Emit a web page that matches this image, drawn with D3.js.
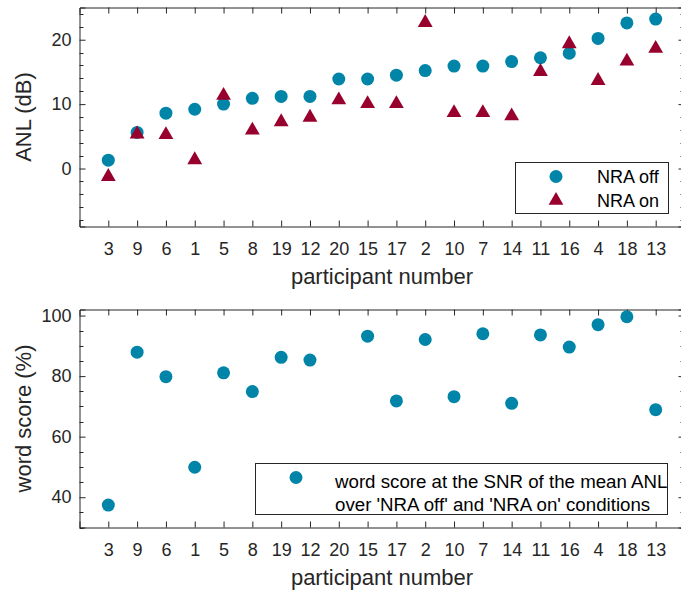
<!DOCTYPE html>
<html><head><meta charset="utf-8">
<script src="https://cdn.jsdelivr.net/npm/d3@7"></script>
<style>
html,body{margin:0;padding:0;background:#fff;}
svg{display:block;}
text{font-family:"Liberation Sans",Arial,Helvetica,sans-serif;fill:#262626;}
</style></head><body>
<script>
// ---- data ----
const participants = ["3","9","6","1","5","8","19","12","20","15","17","2","10","7","14","11","16","4","18","13"];
const anlOff = [1.3,5.6,8.6,9.2,10.0,10.9,11.2,11.2,13.9,13.9,14.5,15.2,15.9,15.9,16.6,17.2,17.9,20.2,22.6,23.2];
const anlOn  = [-1.1,5.5,5.4,1.5,11.5,6.1,7.4,8.1,10.8,10.2,10.2,22.8,8.8,8.8,8.3,15.2,19.5,13.8,16.8,18.8];
const wordScore = [37.4,87.9,79.8,49.9,81.1,74.9,86.2,85.3,null,93.2,71.8,92.1,73.2,94.0,71.0,93.6,89.6,97.0,99.6,68.9];
const anlTicks = [0,10,20];
const wordTicks = [40,60,80,100];
const seriesNames = ["NRA off","NRA on"];
const wordLegend = ["word score at the SNR of the mean ANL","over 'NRA off' and 'NRA on' conditions"];

const W=681,H=592;
const colOff="#0084a8", colOn="#98002e", axCol="#262626";
const tickFont=18, labelFont=22, legendFont=18;
const svg=d3.select("body").append("svg").attr("width",W).attr("height",H);

const x = d3.scaleLinear().domain([0,21]).range([79.5,684.5]);
const idx = d => d+1;

function panel(top,bottom,ylim,majors,minorStep,ylabel){
  const y=d3.scaleLinear().domain(ylim).range([bottom,top]);
  const g=svg.append("g");
  const minors=d3.range(Math.ceil(ylim[0]/minorStep)*minorStep, ylim[1]+1e-9, minorStep).filter(v=>!majors.includes(v));
  const yl=d3.axisLeft(y).tickValues(majors).tickSize(-6).tickPadding(8).tickFormat(d3.format("d"));
  const gl=g.append("g").attr("transform","translate(79.5,0)").call(yl);
  gl.selectAll("text").attr("font-size",tickFont).style("fill",axCol);
  g.append("g").selectAll("line").data(minors).join("line")
    .attr("x1",79.5).attr("x2",83.5).attr("y1",d=>Math.round(y(d))+0.5).attr("y2",d=>Math.round(y(d))+0.5);
  const yr=d3.axisRight(y).tickValues(majors).tickSize(-6).tickFormat("");
  g.append("g").attr("transform","translate(684.5,0)").call(yr);
  g.append("g").selectAll("line").data(minors).join("line")
    .attr("x1",684.5).attr("x2",680.5).attr("y1",d=>Math.round(y(d))+0.5).attr("y2",d=>Math.round(y(d))+0.5);
  const xb=d3.axisBottom(x).tickValues(participants.map((p,i)=>idx(i))).tickSize(-6).tickPadding(16)
    .tickFormat(d=>participants[d-1]);
  const gb=g.append("g").attr("transform",`translate(0,${bottom})`).call(xb);
  gb.selectAll("text").attr("font-size",tickFont).style("fill",axCol);
  const xt=d3.axisTop(x).tickValues(participants.map((p,i)=>idx(i))).tickSize(-6).tickFormat("");
  g.append("g").attr("transform",`translate(0,${top})`).call(xt);
  g.selectAll(".domain").attr("stroke",axCol);
  g.selectAll("line").attr("stroke",axCol);
  g.append("text").attr("x",382).attr("y",bottom+57).attr("text-anchor","middle").attr("font-size",labelFont).text("participant number");
  g.append("text").attr("transform",`translate(31,${(top+bottom)/2}) rotate(-90)`).attr("text-anchor","middle").attr("font-size",labelFont).text(ylabel);
  return y;
}

// top panel
const y1=panel(7.5,226.5,[-9,25],anlTicks,2,"ANL (dB)");
svg.append("g").selectAll("circle").data(anlOff).join("circle")
  .attr("cx",(d,i)=>x(idx(i))).attr("cy",d=>y1(d)).attr("r",6.5).attr("fill",colOff);
const tri=d3.symbol().type(d3.symbolTriangle).size(95);
svg.append("g").selectAll("path").data(anlOn).join("path")
  .attr("d",tri).attr("transform",(d,i)=>`translate(${x(idx(i))},${y1(d)+1})`).attr("fill",colOn);

// legend top
const lg=svg.append("g");
lg.append("rect").attr("x",515.5).attr("y",162.5).attr("width",153).attr("height",51).attr("fill","#fff").attr("stroke",axCol);
lg.append("circle").attr("cx",556).attr("cy",176.5).attr("r",6.5).attr("fill",colOff);
lg.append("path").attr("d",tri).attr("transform","translate(556,200.5)").attr("fill",colOn);
lg.selectAll("text").data(seriesNames).join("text").attr("x",597).attr("y",(d,i)=>183+i*23.5)
  .attr("font-size",legendFont).style("fill","#000").text(d=>d);

// bottom panel
const y2=panel(309.5,527.5,[30,102],wordTicks,5,"word score (%)");
svg.append("g").selectAll("circle").data(wordScore.map((v,i)=>({v,i})).filter(d=>d.v!=null)).join("circle")
  .attr("cx",d=>x(idx(d.i))).attr("cy",d=>y2(d.v)).attr("r",6.5).attr("fill",colOff);

const lg2=svg.append("g");
lg2.append("rect").attr("x",255.5).attr("y",463.5).attr("width",412).attr("height",51).attr("fill","#fff").attr("stroke",axCol);
lg2.append("circle").attr("cx",296).attr("cy",477.5).attr("r",6.5).attr("fill",colOff);
lg2.selectAll("text").data(wordLegend).join("text").attr("x",335).attr("y",(d,i)=>488+i*22.5)
  .attr("font-size",18.7).style("fill","#000").text(d=>d);
</script>
</body></html>
